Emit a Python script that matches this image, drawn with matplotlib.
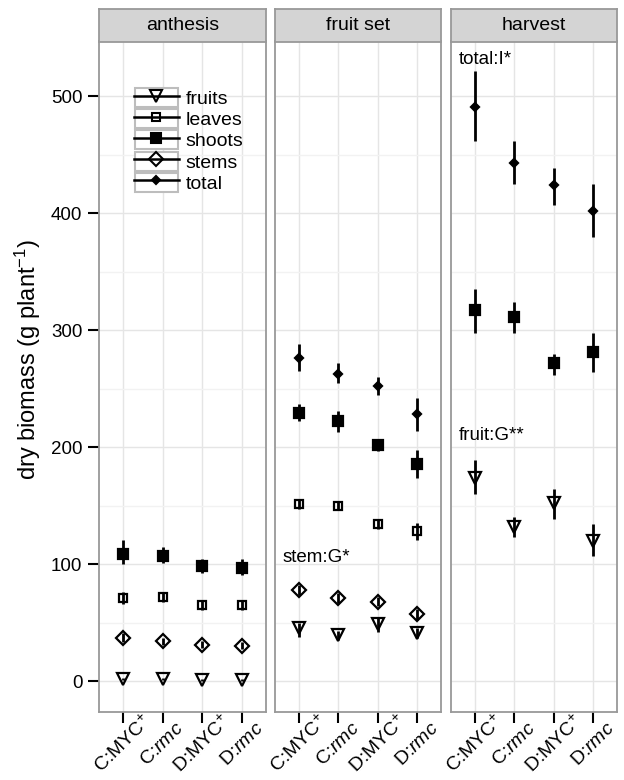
import numpy as np
import matplotlib
matplotlib.use('Agg')
import matplotlib.pyplot as plt
from matplotlib.lines import Line2D
from matplotlib.patches import Rectangle
from matplotlib.legend_handler import HandlerLine2D

plt.rcParams['font.family'] = ['Liberation Sans', 'DejaVu Sans']
plt.rcParams['mathtext.fontset'] = 'custom'
plt.rcParams['mathtext.rm'] = 'Liberation Sans'
plt.rcParams['mathtext.it'] = 'Liberation Sans:italic'
plt.rcParams['mathtext.default'] = 'regular'

# Daten
stages = ['anthesis', 'fruit set', 'harvest']
groups = ['C:MYC$^{+}$', 'C:$\\mathit{rmc}$', 'D:MYC$^{+}$', 'D:$\\mathit{rmc}$']
organs = ['fruits', 'leaves', 'shoots', 'stems', 'total']
nan = np.nan

# mean, lower, upper per stage (order: C:MYC+, C:rmc, D:MYC+, D:rmc)
fruits_mean = [[2, 2, 1, 1], [45, 39, 49, 41], [174, 132, 152, 120]]
fruits_lo = [[1, 1, 0, 0], [38, 35, 42, 37], [160, 123, 139, 107]]
fruits_hi = [[3, 3, 2, 2], [50, 43, 54, 45], [189, 140, 164, 134]]

leaves_mean = [[71, 72, 65, 65], [151, 150, 134, 128], [nan] * 4]
leaves_lo = [[66, 68, 61, 61], [147, 146, 130, 121], [nan] * 4]
leaves_hi = [[76, 76, 69, 69], [155, 154, 138, 135], [nan] * 4]

shoots_mean = [[109, 107, 98, 97], [229, 222, 202, 186], [317, 311, 272, 281]]
shoots_lo = [[100, 101, 92, 91], [222, 213, 197, 174], [298, 298, 262, 264]]
shoots_hi = [[121, 115, 104, 104], [237, 231, 207, 198], [335, 324, 280, 298]]

stems_mean = [[37, 34, 31, 30], [78, 71, 68, 57], [nan] * 4]
stems_lo = [[33, 31, 28, 27], [74, 67, 64, 52], [nan] * 4]
stems_hi = [[41, 37, 34, 33], [82, 75, 72, 62], [nan] * 4]

total_mean = [[nan] * 4, [276, 263, 252, 228], [491, 443, 424, 402]]
total_lo = [[nan] * 4, [265, 255, 245, 214], [462, 425, 407, 380]]
total_hi = [[nan] * 4, [288, 272, 260, 242], [522, 462, 439, 425]]

notes = {1: [('stem:G*', 106)], 2: [('total:I*', 532), ('fruit:G**', 210)]}

series = {
    'fruits': (fruits_mean, fruits_lo, fruits_hi),
    'leaves': (leaves_mean, leaves_lo, leaves_hi),
    'shoots': (shoots_mean, shoots_lo, shoots_hi),
    'stems': (stems_mean, stems_lo, stems_hi),
    'total': (total_mean, total_lo, total_hi),
}
style = {
    'fruits': dict(marker='v', ms=8.5, mfc='none'),
    'leaves': dict(marker='s', ms=6.3, mfc='none'),
    'shoots': dict(marker='s', ms=6.5, mfc='black'),
    'stems': dict(marker='D', ms=6.8, mfc='none'),
    'total': dict(marker='D', ms=4.3, mfc='black'),
}

W, H = 624, 780
fig = plt.figure(figsize=(W / 100, H / 100), dpi=100)


def px_axes(x0, y0, x1, y1):
    return fig.add_axes([x0 / W, 1 - y1 / H, (x1 - x0) / W, (y1 - y0) / H])


panels = [(99, 266), (275, 441), (451, 617)]
top, bottom, strip_top = 41.5, 712, 9
border = '#999999'
x = np.arange(1, 5)

for i, (x0, x1) in enumerate(panels):
    ax = px_axes(x0, top, x1, bottom)
    ax.set_xlim(0.4, 4.6)
    ax.set_ylim(-26.5, 547)
    ax.set_yticks(np.arange(0, 501, 100))
    ax.set_yticks(np.arange(50, 501, 100), minor=True)
    ax.set_xticks(x)
    ax.grid(which='major', color='#e5e5e5', lw=1.0, zorder=0)
    ax.grid(which='minor', axis='y', color='#f2f2f2', lw=1.0, zorder=0)
    ax.set_axisbelow(True)
    for sp in ax.spines.values():
        sp.set_color(border)
        sp.set_linewidth(1.3)

    for k, org in enumerate(organs):
        m, lo, hi = series[org]
        ax.vlines(x, lo[i], hi[i], color='black', lw=2.0, zorder=3 + k)
        ax.plot(x, m[i], ls='none', color='black', mec='black', mew=1.6,
                zorder=3 + k, **style[org])

    ax.set_xticklabels(groups, rotation=45, ha='center', va='center',
                       rotation_mode='anchor', fontsize=14)
    ax.tick_params(axis='x', length=8, width=1.5, pad=15, colors='black')
    if i == 0:
        ax.tick_params(axis='y', which='major', length=8, width=1.5, pad=4,
                       labelsize=13.5)
        ax.tick_params(axis='y', which='minor', length=0)
    else:
        ax.tick_params(axis='y', which='both', length=0, labelleft=False)

    for txt, yv in notes.get(i, []):
        ax.text(0.6, yv, txt, ha='left', va='center', fontsize=13.5, zorder=10)

    # strip
    sax = px_axes(x0, strip_top, x1, top)
    sax.set_facecolor('#d4d4d4')
    sax.set_xticks([])
    sax.set_yticks([])
    for sp in sax.spines.values():
        sp.set_color(border)
        sp.set_linewidth(1.3)
    sax.text(0.5, 0.5, stages[i], ha='center', va='center', fontsize=14,
             transform=sax.transAxes)

    if i == 0:
        legend_ax = ax

# y label centred over panels + strips
fig.text(28 / W, 1 - 360 / H, 'dry biomass (g plant$^{-1}$)', rotation=90,
         ha='center', va='center', fontsize=17)


class BoxedHandler(HandlerLine2D):
    def create_artists(self, legend, orig_handle, xdescent, ydescent,
                       width, height, fontsize, trans):
        arts = super().create_artists(legend, orig_handle, xdescent, ydescent,
                                      width, height, fontsize, trans)
        box = Rectangle((-xdescent + 0.8, -ydescent + 0.8), width - 1.6, height - 1.6,
                        facecolor='white', edgecolor='#bdbdbd', lw=1.5,
                        transform=trans, zorder=0)
        return [box] + arts


handles = [Line2D([], [], color='black', lw=1.8, mec='black', mew=1.5,
                  **style[o]) for o in organs]
leg = legend_ax.legend(handles, organs, loc='upper left',
                       bbox_to_anchor=(134 / W, 1 - 87 / H),
                       bbox_transform=fig.transFigure, frameon=False,
                       fontsize=14, handlelength=2.3, handleheight=1.3,
                       labelspacing=0.0, handletextpad=0.35, borderpad=0,
                       borderaxespad=0,
                       handler_map={Line2D: BoxedHandler()})
leg.set_zorder(20)

fig.savefig('out.png', dpi=100)
